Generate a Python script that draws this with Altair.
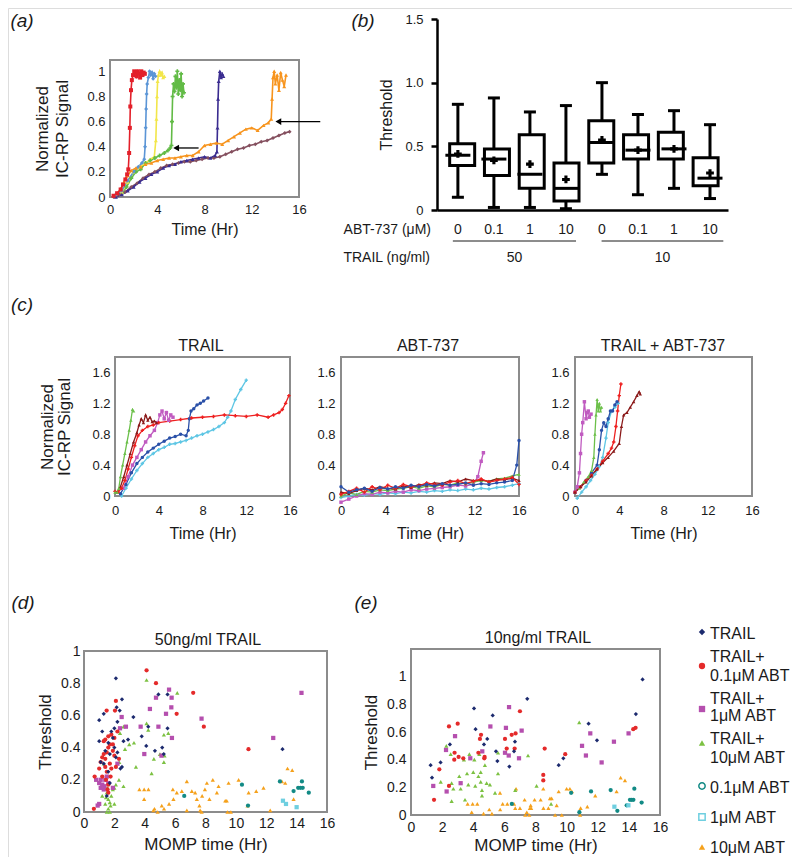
import altair as alt
import pandas as pd

W, H = 784, 849
FONT = "Liberation Sans"
INK = "#1a1a1a"
FRAME = "#8c8c8c"

# ---------------- colours ----------------
NAVY, RED, MAG, GRN, TEAL, LCYAN, ORNG = "#1c2a6e", "#e42a2a", "#b54fae", "#7cc142", "#128a85", "#6fcfe0", "#f5a11c"

# ---------------- panel (a) data ----------------
a_red_t = [0.3,0.6,0.9,1.1,1.3,1.45,1.55,1.62,1.68,1.72,1.78,1.85,1.95,2.05,2.15,2.25,2.35,2.45,2.55,2.65,2.75,2.85,2.95]
a_red_v = [0.01,0.03,0.06,0.1,0.14,0.18,0.22,0.35,0.55,0.72,0.85,0.93,0.97,1.0,0.99,0.96,1.0,0.98,0.95,1.0,0.97,0.99,0.98]
a_blue_t = [0.5,1.0,1.5,2.0,2.4,2.7,2.9,2.97,3.02,3.06,3.1,3.15,3.25,3.35,3.45,3.55,3.65,3.75,3.85]
a_blue_v = [0.02,0.05,0.13,0.2,0.24,0.27,0.3,0.4,0.55,0.7,0.82,0.9,0.95,1.0,0.97,0.99,0.94,0.98,0.96]
a_yel_t = [1.0,1.5,2.0,2.5,3.0,3.4,3.75,3.88,3.93,3.98,4.03,4.1,4.2,4.3,4.4,4.5,4.6]
a_yel_v = [0.04,0.12,0.2,0.24,0.27,0.3,0.32,0.45,0.62,0.8,0.92,0.97,1.0,0.97,0.99,0.95,0.96]
a_grn_t = [1.0,1.4,1.8,2.2,2.6,3.0,3.4,3.8,4.2,4.6,4.9,5.1,5.2,5.25,5.3,5.38,5.46,5.54,5.62,5.7,5.78,5.86,5.94,6.02,6.1,6.18,6.26]
a_grn_v = [0.03,0.08,0.15,0.2,0.22,0.27,0.29,0.31,0.33,0.35,0.37,0.39,0.41,0.6,0.8,0.9,0.84,0.96,0.87,1.0,0.82,0.93,0.85,0.98,0.8,0.9,0.83]
a_ind_t = [0.5,1.0,1.5,2.0,2.5,3.0,3.5,4.0,4.5,5.0,5.5,6.0,6.5,7.0,7.5,8.0,8.5,8.9,9.05,9.1,9.15,9.2,9.3,9.4,9.5,9.6]
a_ind_v = [0.0,0.02,0.05,0.08,0.12,0.15,0.18,0.2,0.23,0.25,0.26,0.28,0.29,0.3,0.31,0.32,0.31,0.33,0.36,0.55,0.78,0.92,1.0,0.95,0.98,0.96]
a_org_t = [0.5,0.9,1.2,1.5,1.8,2.2,2.6,3.0,3.5,4.0,4.5,5.0,5.5,6.0,6.5,7.0,7.5,8.0,8.5,9.0,9.5,10.0,10.5,11.0,11.5,12.0,12.5,13.0,13.4,13.65,13.72,13.8,13.9,14.0,14.15,14.3,14.45,14.6,14.75,14.9]
a_org_v = [0.02,0.06,0.12,0.17,0.21,0.23,0.24,0.26,0.27,0.29,0.3,0.31,0.31,0.32,0.33,0.33,0.36,0.41,0.42,0.43,0.42,0.45,0.48,0.51,0.54,0.55,0.53,0.57,0.59,0.62,0.78,0.95,1.0,0.9,0.97,0.85,0.99,0.93,0.88,0.97]
a_brn_t = [0.3,0.8,1.3,1.8,2.3,2.8,3.3,3.8,4.3,4.8,5.3,5.8,6.3,6.8,7.3,7.8,8.3,8.8,9.3,9.8,10.3,10.8,11.3,11.8,12.3,12.8,13.3,13.8,14.3,14.8,15.2]
a_brn_v = [0.0,0.02,0.04,0.08,0.11,0.15,0.18,0.2,0.23,0.25,0.26,0.27,0.28,0.28,0.29,0.3,0.31,0.31,0.32,0.34,0.36,0.38,0.39,0.41,0.42,0.44,0.45,0.47,0.49,0.51,0.52]
a_arrow_head = [5.6, 14.25]
a_arrow_tail = [7.5, 17.8]
a_arrow_v = [0.39, 0.6]

# ---------------- panel (b) data ----------------
b_pos = [0, 1, 2, 3, 4, 5, 6, 7]
b_abt = ["0", "0.1", "1", "10", "0", "0.1", "1", "10"]
b_lo = [0.10, 0.02, 0.02, 0.01, 0.28, 0.12, 0.17, 0.09]
b_q1 = [0.35, 0.27, 0.17, 0.07, 0.37, 0.40, 0.40, 0.19]
b_med = [0.43, 0.40, 0.28, 0.17, 0.53, 0.47, 0.48, 0.25]
b_q3 = [0.52, 0.48, 0.59, 0.37, 0.70, 0.59, 0.61, 0.41]
b_hi = [0.83, 0.88, 0.77, 0.82, 1.00, 0.75, 0.78, 0.67]
b_mean = [0.44, 0.39, 0.36, 0.24, 0.55, 0.47, 0.48, 0.29]
b_trail = ["50", "10"]
b_group_from = [-0.14, 3.99]
b_group_to = [3.28, 7.37]
b_group_mid = [1.57, 5.68]

# ---------------- panel (c) data ----------------
c1_green = [(0,0.05),(0.2,0.05),(0.35,0.1),(0.5,0.25),(0.7,0.4),(0.9,0.55),(1.1,0.7),(1.3,0.85),(1.45,0.98),(1.6,1.12),(1.7,1.1)]
c1_dred = [(0.2,0.05),(0.5,0.12),(0.8,0.25),(1.1,0.4),(1.4,0.55),(1.7,0.7),(2.0,0.82),(2.2,0.92),(2.4,1.0),(2.6,0.95),(2.8,1.05),(3.0,0.98),(3.2,1.02),(3.4,0.96),(3.6,0.97),(3.8,0.95)]
c1_mag = [(0.8,0.1),(1.2,0.25),(1.6,0.4),(2.0,0.5),(2.4,0.6),(2.8,0.7),(3.2,0.78),(3.6,0.85),(3.9,0.95),(4.1,1.05),(4.3,1.1),(4.5,1.0),(4.7,1.08),(4.9,0.98),(5.1,1.05),(5.3,1.02)]
c1_blue = [(0.5,0.03),(1,0.15),(1.5,0.3),(2,0.42),(2.5,0.5),(3,0.57),(3.5,0.62),(4,0.67),(4.5,0.71),(5,0.75),(5.5,0.77),(6,0.8),(6.5,0.78),(6.7,0.85),(6.8,1.0),(6.95,1.1),(7.2,1.13),(7.5,1.18),(7.8,1.2),(8.1,1.23),(8.5,1.27)]
c1_red = [(0,0.06),(0.3,0.05),(0.6,0.1),(0.9,0.2),(1.2,0.35),(1.5,0.5),(1.8,0.65),(2.1,0.78),(2.5,0.85),(3,0.9),(3.5,0.92),(4,0.95),(5,0.97),(6,0.99),(7,1.01),(8,1.02),(9,1.03),(10,1.05),(11,1.04),(12,1.03),(13,1.05),(14,1.02),(14.5,1.05),(15,1.08),(15.3,1.12),(15.6,1.2),(15.9,1.3)]
c1_cyan = [(0.6,0.0),(1,0.1),(1.5,0.22),(2,0.33),(2.5,0.42),(3,0.5),(3.5,0.55),(4,0.6),(4.5,0.63),(5,0.67),(5.5,0.68),(6,0.7),(6.5,0.72),(7,0.75),(7.5,0.78),(8,0.8),(8.5,0.83),(9,0.86),(9.5,0.9),(10,0.95),(10.3,1.02),(10.6,1.1),(11,1.25),(11.5,1.38),(12.0,1.5)]

c2_blue = [(0,0.12),(0.7,0.05),(1.4,0.08),(2.1,0.1),(2.8,0.06),(3.5,0.11),(4.2,0.09),(4.9,0.12),(5.6,0.1),(6.3,0.14),(7.0,0.12),(7.7,0.15),(8.4,0.13),(9.1,0.16),(9.8,0.14),(10.5,0.15),(11.2,0.17),(11.9,0.14),(12.6,0.16),(13.3,0.15),(14.0,0.17),(14.7,0.18),(15.4,0.2),(15.8,0.4),(16.0,0.72)]
c2_red = [(0,0.02),(0.7,0.06),(1.4,0.1),(2.1,0.05),(2.8,0.12),(3.5,0.08),(4.2,0.14),(4.9,0.1),(5.6,0.15),(6.3,0.12),(7.0,0.13),(7.7,0.17),(8.4,0.15),(9.1,0.14),(9.8,0.18),(10.5,0.2),(11.2,0.16),(11.9,0.19),(12.6,0.22),(13.3,0.18),(14.0,0.2),(14.7,0.22),(15.4,0.24),(16.0,0.15)]
c2_dred = [(0,0.05),(0.7,0.03),(1.4,0.07),(2.1,0.1),(2.8,0.08),(3.5,0.12),(4.2,0.1),(4.9,0.09),(5.6,0.13),(6.3,0.11),(7.0,0.15),(7.7,0.14),(8.4,0.17),(9.1,0.16),(9.8,0.2),(10.5,0.18),(11.2,0.22),(11.9,0.2),(12.6,0.21),(13.3,0.19),(14.0,0.22),(14.7,0.21),(15.4,0.23),(16.0,0.2)]
c2_green = [(0,0.0),(0.7,0.04),(1.4,0.02),(2.1,0.06),(2.8,0.05),(3.5,0.08),(4.2,0.07),(4.9,0.09),(5.6,0.1),(6.3,0.12),(7.0,0.1),(7.7,0.13),(8.4,0.12),(9.1,0.15),(9.8,0.14),(10.5,0.17),(11.2,0.16),(11.9,0.18),(12.6,0.2),(13.3,0.19),(14.0,0.22),(14.7,0.23),(15.4,0.26),(16.0,0.28)]
c2_mag = [(0,-0.08),(0.7,-0.04),(1.4,0.0),(2.1,0.03),(2.8,0.02),(3.5,0.05),(4.2,0.04),(4.9,0.06),(5.6,0.05),(6.3,0.08),(7.0,0.07),(7.7,0.09),(8.4,0.1),(9.1,0.11),(9.8,0.12),(10.5,0.14),(11.2,0.13),(11.9,0.15),(12.3,0.25),(12.6,0.45),(12.8,0.56)]
c2_cyan = [(0,-0.02),(0.7,0.0),(1.4,0.02),(2.1,0.01),(2.8,0.03),(3.5,0.02),(4.2,0.04),(4.9,0.03),(5.6,0.05),(6.3,0.04),(7.0,0.06),(7.7,0.05),(8.4,0.07),(9.1,0.06),(9.8,0.08),(10.5,0.07),(11.2,0.09),(11.9,0.08),(12.6,0.1),(13.3,0.09),(14.0,0.11),(14.7,0.12),(15.4,0.14),(16.0,0.16)]

c3_mag = [(0,0.05),(0.2,0.12),(0.4,0.3),(0.5,0.55),(0.6,0.8),(0.7,0.95),(0.85,1.22),(1.0,1.0),(1.1,1.08),(1.2,1.1),(1.3,1.02),(1.45,1.06)]
c3_green = [(0,0.05),(0.4,0.1),(0.8,0.18),(1.2,0.25),(1.5,0.33),(1.7,0.5),(1.8,0.8),(1.9,1.05),(2.0,1.25),(2.1,1.1),(2.2,1.2),(2.3,1.1),(2.4,1.15)]
c3_blue = [(0,0.05),(0.5,0.12),(1.0,0.2),(1.5,0.3),(2.0,0.4),(2.2,0.6),(2.4,0.85),(2.6,0.95),(2.8,0.9),(3.0,1.0),(3.2,1.1),(3.4,1.1),(3.6,1.18),(3.8,1.22)]
c3_cyan = [(0.2,-0.03),(0.6,0.05),(1.0,0.12),(1.4,0.2),(1.8,0.28),(2.2,0.38),(2.5,0.5),(2.8,0.75),(3.0,0.95),(3.3,1.1),(3.6,1.15),(3.9,1.2)]
c3_red = [(0,0.05),(0.5,0.12),(1.0,0.2),(1.5,0.27),(2.0,0.35),(2.5,0.45),(3.0,0.55),(3.3,0.62),(3.5,0.7),(3.7,0.9),(3.85,1.1),(4.0,1.3),(4.15,1.45)]
c3_dred = [(0,0.05),(0.5,0.12),(1.0,0.18),(1.5,0.26),(2.0,0.35),(2.5,0.43),(3.0,0.5),(3.5,0.58),(4.0,0.68),(4.2,0.9),(4.4,1.05),(4.7,1.08),(5.0,1.15),(5.3,1.22),(5.6,1.3),(5.8,1.35),(5.9,1.32)]

# ---------------- panel (d) data: 50 ng/ml TRAIL ----------------
d_trail = [(2.1,0.83),(2.5,0.70),(1.3,0.61),(1.0,0.57),(2.15,0.65),(3.25,0.59),(4.9,0.73),(5.5,0.73),(5.5,0.52),(4.23,0.53),(3.8,0.47),(2.9,0.45),(2.6,0.44),(5.15,0.40),(4.67,0.38),(13.07,0.39),(1.0,0.44),(1.2,0.5),(1.4,0.38),(1.6,0.43),(1.8,0.5),(2.0,0.52),(2.2,0.56),(2.35,0.63),(1.3,0.3),(1.6,0.25),(2.0,0.4),(2.2,0.37),(2.4,0.27),(2.5,0.28),(1.1,0.31),(1.7,0.18),(1.5,0.1),(1.9,0.46),(2.1,0.34),(1.7,0.36),(4.1,0.41),(5.25,0.36)]
d_abt01 = [(4.12,0.88),(4.74,0.80),(7.19,0.74),(7.89,0.53),(6.1,0.61),(10.83,0.39),(2.1,0.69),(2.04,0.63),(1.49,0.63),(0.7,0.22),(1.0,0.27),(1.1,0.31),(1.2,0.34),(1.3,0.36),(1.4,0.28),(1.5,0.25),(1.45,0.2),(1.6,0.17),(1.4,0.45),(1.6,0.47),(1.8,0.48),(1.7,0.42),(1.9,0.38),(2.0,0.35),(1.6,0.4),(1.3,0.44),(1.5,0.37),(1.7,0.3),(1.8,0.27),(1.6,0.12),(0.65,0.02),(1.55,0.14),(1.2,0.22),(2.0,0.46),(2.2,0.5),(2.3,0.33),(2.1,0.28),(1.9,0.42),(1.4,0.33),(1.75,0.22)]
d_abt1 = [(5.6,0.76),(4.74,0.71),(5.77,0.71),(5.75,0.65),(5.4,0.61),(4.34,0.64),(2.48,0.59),(2.76,0.53),(3.73,0.53),(4.9,0.53),(5.79,0.46),(3.97,0.36),(5.1,0.35),(7.74,0.58),(12.46,0.46),(14.32,0.74),(2.37,0.52),(0.8,0.2),(1.0,0.18),(1.1,0.15),(1.2,0.17),(1.3,0.14),(1.0,0.05),(1.5,0.22),(1.6,0.18),(0.9,0.04),(1.4,0.2),(2.2,0.3),(1.9,0.15),(1.1,0.2),(1.35,0.16)]
d_abt10 = [(4.12,0.82),(6.14,0.74),(4.12,0.55),(4.23,0.51),(3.29,0.43),(2.98,0.42),(2.37,0.49),(5.26,0.48),(5.55,0.49),(5.0,0.36),(4.6,0.33),(5.26,0.31),(3.42,0.28),(4.45,0.24),(2.32,0.31),(2.7,0.39),(1.2,0.1),(1.4,0.05),(1.5,0.0),(1.6,0.02),(1.7,0.06),(1.8,0.1),(1.9,0.14),(2.0,0.15),(2.1,0.17),(2.3,0.2),(1.5,0.12),(1.7,0.0),(1.3,0.3),(1.55,0.15),(1.6,0.08),(2.0,0.05),(2.6,0.53),(1.45,0.09),(1.75,0.04),(5.3,0.35),(2.6,0.16)]
d_only01 = [(6.6,0.1),(10.4,0.17),(10.8,0.04),(12.9,0.19),(13.8,0.13),(14.1,0.15),(14.25,0.15),(14.35,0.19),(14.8,0.12),(14.4,0.15)]
d_only1 = [(13.1,0.07),(13.3,0.05),(14.0,0.03)]
d_only10 = [(3.65,0.14),(3.96,0.14),(4.24,0.14),(3.96,0.08),(4.57,0.01),(4.64,0.02),(5.12,0.04),(5.27,0.02),(5.89,0.08),(5.85,0.14),(6.11,0.12),(6.44,0.13),(6.77,0.19),(7.1,0.13),(7.32,0.12),(7.43,0.08),(7.6,0.04),(7.65,0.01),(7.75,0.0),(7.78,0.1),(7.96,0.14),(8.09,0.18),(8.26,0.08),(8.48,0.2),(8.75,0.12),(8.86,0.16),(9.3,0.07),(9.4,0.07),(9.52,0.18),(9.45,0.0),(9.67,0.0),(10.18,0.2),(10.77,0.04),(10.84,0.12),(11.34,0.13),(11.82,0.15),(12.26,0.01),(13.03,0.19),(13.25,0.18),(13.4,0.27),(13.71,0.26),(13.8,0.08),(6.77,0.01),(4.85,0.0),(5.6,0.05)]

# ---------------- panel (e) data: 10 ng/ml TRAIL ----------------
e_trail = [(14.88,0.98),(7.47,0.84),(4.05,0.77),(5.25,0.72),(4.15,0.62),(4.9,0.55),(4.69,0.51),(5.46,0.46),(5.55,0.39),(6.32,0.35),(6.68,0.53),(6.62,0.46),(2.5,0.51),(1.9,0.38),(1.26,0.36),(1.35,0.27),(9.49,0.36),(9.79,0.41),(11.41,0.66),(11.95,0.54),(14.45,0.73)]
e_abt01 = [(2.44,0.64),(3.0,0.66),(2.8,0.45),(2.78,0.40),(3.06,0.42),(3.36,0.41),(4.5,0.58),(4.43,0.55),(4.33,0.45),(4.73,0.42),(4.71,0.41),(6.04,0.55),(6.15,0.48),(6.72,0.59),(6.47,0.58),(7.0,0.75),(6.66,0.48),(8.59,0.48),(8.5,0.29),(8.5,0.25),(9.91,0.44),(1.82,0.33),(1.48,0.11),(2.44,0.21),(14.28,0.62),(14.43,0.63)]
e_abt1 = [(2.83,0.57),(2.25,0.47),(1.43,0.21),(2.29,0.17),(3.19,0.23),(3.81,0.41),(4.58,0.46),(5.1,0.64),(6.1,0.63),(6.3,0.78),(7.11,0.61),(6.28,0.43),(6.94,0.41),(6.04,0.45),(10.99,0.50),(11.52,0.59),(11.24,0.43),(12.25,0.38),(13.04,0.53),(13.98,0.59)]
e_abt10 = [(2.27,0.50),(2.55,0.44),(1.91,0.24),(2.61,0.23),(2.72,0.19),(2.61,0.10),(3.1,0.28),(3.4,0.40),(3.75,0.44),(4.07,0.40),(4.39,0.44),(4.0,0.31),(4.33,0.28),(4.48,0.31),(4.75,0.36),(3.6,0.30),(3.68,0.22),(4.13,0.21),(4.48,0.24),(4.86,0.23),(5.07,0.22),(4.56,0.18),(4.56,0.14),(3.19,0.19),(3.47,0.11),(5.59,0.30),(5.4,0.16),(5.59,0.45),(7.52,0.43),(8.07,0.21),(6.7,0.18),(9.0,0.08),(10.81,0.67)]
e_only01 = [(6.48,0.08),(10.29,0.16),(10.82,0.02),(11.57,0.17),(12.83,0.18),(13.86,0.07),(14.07,0.11),(14.18,0.11),(14.29,0.11),(14.35,0.19),(14.82,0.09),(13.26,0.03)]
e_only1 = [(13.07,0.06),(13.97,0.07)]
e_only10 = [(3.64,0.08),(3.96,0.08),(4.26,0.08),(5.03,0.04),(5.72,0.16),(5.89,0.08),(6.19,0.08),(6.75,0.19),(6.62,0.08),(7.3,0.11),(7.69,0.07),(7.94,0.11),(8.33,0.11),(8.5,0.19),(8.93,0.12),(9.04,0.12),(9.49,0.17),(10.21,0.19),(10.34,0.17),(10.9,0.05),(11.33,0.06),(11.84,0.14),(13.21,0.17),(13.47,0.27),(13.75,0.25),(9.36,0.07),(7.64,0.05),(3.9,0.02),(4.66,0.01),(5.2,0.01),(5.73,0.04),(6.7,0.05),(7.0,0.05),(7.34,0.0),(7.44,0.02),(7.6,0.0),(7.72,0.05),(8.51,0.05),(8.83,0.05),(9.26,0.0),(9.69,0.0),(10.87,0.0),(10.0,0.19)]

# ---------------- geometry (page pixels; plot = page - 8) ----------------
GEO = {
    "a":  dict(xd=[0, 16], xp=[110, 299], yd=[0, 1.09], yp=[197, 60]),
    "b":  dict(xd=[-0.58, 7.5], xp=[437, 728], yd=[0, 1.5], yp=[210, 19]),
    "c1": dict(xd=[0, 16], xp=[115, 290], yd=[0, 1.8], yp=[496, 357]),
    "c2": dict(xd=[0, 16], xp=[341, 519], yd=[0, 1.8], yp=[496, 357]),
    "c3": dict(xd=[0, 16], xp=[575, 752], yd=[0, 1.8], yp=[496, 357]),
    "d":  dict(xd=[0, 16], xp=[84, 327], yd=[0, 1.0], yp=[812, 651]),
    "e":  dict(xd=[0, 16], xp=[411, 660], yd=[0, 1.2], yp=[815, 649]),
}


def xs(p):
    g = GEO[p]
    return alt.Scale(domain=g["xd"], range=[g["xp"][0] - 8, g["xp"][1] - 8], nice=False, zero=False)


def ys(p):
    g = GEO[p]
    return alt.Scale(domain=g["yd"], range=[g["yp"][0] - 8, g["yp"][1] - 8], nice=False, zero=False)


def xax(p, values, title, lsize=13, tsize=16, lpad=6, tpad=5):
    g = GEO[p]
    return alt.Axis(orient="bottom", offset=(g["yp"][0] - 8) - H, values=values, title=title, format="~g",
                    domain=False, ticks=False, grid=False, labelFontSize=lsize, titleFontSize=tsize,
                    labelPadding=lpad, titlePadding=tpad, labelFlush=False, labelOverlap=False,
                    labelColor=INK, titleColor=INK, titleFontWeight="normal", labelFont=FONT, titleFont=FONT)


def yax(p, values, title, lsize=13, tsize=16, lpad=5, tpad=10, tlh=19):
    g = GEO[p]
    return alt.Axis(orient="left", offset=-(g["xp"][0] - 8), values=values, title=title, format="~g",
                    domain=False, ticks=False, grid=False, labelFontSize=lsize, titleFontSize=tsize,
                    labelPadding=lpad, titlePadding=tpad, labelFlush=False, labelOverlap=False,
                    labelColor=INK, titleColor=INK, titleFontWeight="normal", labelFont=FONT, titleFont=FONT,
                    titleLineHeight=tlh)


def frame(p, xaxis, yaxis):
    g = GEO[p]
    df = pd.DataFrame({"x0": [g["xd"][0]], "x1": [g["xd"][1]], "y0": [g["yd"][0]], "y1": [g["yd"][1]]})
    return alt.Chart(df).mark_rect(fillOpacity=0, stroke=FRAME, strokeWidth=2).encode(
        x=alt.X("x0:Q", scale=xs(p), axis=xaxis), x2="x1:Q",
        y=alt.Y("y0:Q", scale=ys(p), axis=yaxis), y2="y1:Q")


def trace_layer(p, traces, size=10, sw=1.0):
    rows = []
    for name, pts, col, shp in traces:
        for i, (t, v) in enumerate(pts):
            rows.append({"s": name, "t": t, "v": v, "i": i})
    df = pd.DataFrame(rows)
    names = [tr[0] for tr in traces]
    return alt.Chart(df).mark_line(strokeWidth=sw, point=alt.OverlayMarkDef(size=size, filled=True, opacity=1)).encode(
        x=alt.X("t:Q", scale=xs(p), axis=None),
        y=alt.Y("v:Q", scale=ys(p), axis=None),
        color=alt.Color("s:N", scale=alt.Scale(domain=names, range=[tr[2] for tr in traces]), legend=None),
        shape=alt.Shape("s:N", scale=alt.Scale(domain=names, range=[tr[3] for tr in traces]), legend=None),
        detail="s:N",
        order="i:Q")


def scatter_layer(p, series, size=18):
    rows = []
    for name, pts, col, shp in series:
        for (x, y) in pts:
            rows.append({"s": name, "x": x, "y": y})
    df = pd.DataFrame(rows)
    names = [s[0] for s in series]
    return alt.Chart(df).mark_point(filled=True, size=size, opacity=1).encode(
        x=alt.X("x:Q", scale=xs(p), axis=None),
        y=alt.Y("y:Q", scale=ys(p), axis=None),
        color=alt.Color("s:N", scale=alt.Scale(domain=names, range=[s[2] for s in series]), legend=None),
        shape=alt.Shape("s:N", scale=alt.Scale(domain=names, range=[s[3] for s in series]), legend=None))


def txt(text, x, y, size=14, align="center", style="normal", baseline="middle"):
    return alt.Chart(pd.DataFrame({"t": [text]})).mark_text(
        align=align, baseline=baseline, fontSize=size, fontStyle=style, font=FONT, color=INK).encode(
        x=alt.value(x - 8), y=alt.value(y - 8), text="t:N")


layers = []

# ---------- panel (a) ----------
layers.append(frame("a", xax("a", [0, 4, 8, 12, 16], "Time (Hr)", lpad=6, tpad=5),
                    yax("a", [0, 0.2, 0.4, 0.6, 0.8, 1], ["Normalized", "IC-RP Signal"], tsize=17, tpad=15, tlh=20)))
a_traces = [
    ("brown", list(zip(a_brn_t, a_brn_v)), "#85505f", "diamond"),
    ("indigo", list(zip(a_ind_t, a_ind_v)), "#3a2c90", "triangle-up"),
    ("orange", list(zip(a_org_t, a_org_v)), "#f7941d", "triangle-up"),
    ("green", list(zip(a_grn_t, a_grn_v)), "#62bb46", "cross"),
    ("yellow", list(zip(a_yel_t, a_yel_v)), "#f2e64a", "triangle-up"),
    ("blue", list(zip(a_blue_t, a_blue_v)), "#5b95d6", "diamond"),
    ("red", list(zip(a_red_t, a_red_v)), "#e3202a", "square"),
]
layers.append(trace_layer("a", a_traces, size=16, sw=1.6))
arr = pd.DataFrame({"h": a_arrow_head, "t": a_arrow_tail, "v": a_arrow_v})
layers.append(alt.Chart(arr).mark_rule(color="black", strokeWidth=1.3).encode(
    x=alt.X("h:Q", scale=xs("a"), axis=None), x2="t:Q", y=alt.Y("v:Q", scale=ys("a"), axis=None)))
layers.append(alt.Chart(arr).mark_point(shape="triangle-left", filled=True, size=45, color="black", opacity=1).encode(
    x=alt.X("h:Q", scale=xs("a"), axis=None), y=alt.Y("v:Q", scale=ys("a"), axis=None)))

# ---------- panel (b) ----------
bdf = pd.DataFrame({"pos": b_pos, "abt": b_abt, "lo": b_lo, "q1": b_q1, "med": b_med,
                    "q3": b_q3, "hi": b_hi, "mean": b_mean})
b_xaxis = alt.Axis(orient="bottom", offset=(GEO["b"]["yp"][0] - 8) - H, domain=True, domainColor="black",
                   domainWidth=2.5, ticks=False, labels=False, grid=False, title="")
b_yaxis = alt.Axis(orient="left", offset=-(GEO["b"]["xp"][0] - 8), values=[0, 0.5, 1.0, 1.5], domain=True,
                   domainColor="black", domainWidth=2.5, ticks=True, tickColor="black", tickWidth=2.5, tickSize=6,
                   grid=False, labelExpr="datum.value == 0 ? '0' : format(datum.value, '.1f')",
                   labelFontSize=13, labelPadding=8, labelColor=INK, labelFont=FONT,
                   title="Threshold", titleFontSize=16, titleFontWeight="normal", titleColor=INK,
                   titleFont=FONT, titlePadding=10)
layers.append(alt.Chart(bdf).mark_rule(color="black", strokeWidth=3).encode(
    x=alt.X("pos:Q", scale=xs("b"), axis=b_xaxis), y=alt.Y("lo:Q", scale=ys("b"), axis=b_yaxis), y2="hi:Q"))
layers.append(alt.Chart(bdf).mark_bar(size=25, fill="white", stroke="black", strokeWidth=3).encode(
    x=alt.X("pos:Q", scale=xs("b"), axis=None), y=alt.Y("q1:Q", scale=ys("b"), axis=None), y2="q3:Q"))
for fld, sz in (("med", 25), ("lo", 12), ("hi", 12)):
    layers.append(alt.Chart(bdf).mark_tick(orient="horizontal", size=sz, thickness=3, color="black", opacity=1).encode(
        x=alt.X("pos:Q", scale=xs("b"), axis=None), y=alt.Y(f"{fld}:Q", scale=ys("b"), axis=None)))
layers.append(alt.Chart(bdf).mark_point(shape="cross", filled=True, size=60, color="black", opacity=1).encode(
    x=alt.X("pos:Q", scale=xs("b"), axis=None), y=alt.Y("mean:Q", scale=ys("b"), axis=None)))
layers.append(alt.Chart(bdf).mark_text(fontSize=14, font=FONT, color=INK, baseline="middle").encode(
    x=alt.X("pos:Q", scale=xs("b"), axis=None), y=alt.value(230 - 8), text="abt:N"))
gdf = pd.DataFrame({"f": b_group_from, "t": b_group_to, "m": b_group_mid, "lab": b_trail})
layers.append(alt.Chart(gdf).mark_rule(color=INK, strokeWidth=1).encode(
    x=alt.X("f:Q", scale=xs("b"), axis=None), x2="t:Q", y=alt.value(241 - 8)))
layers.append(alt.Chart(gdf).mark_text(fontSize=14, font=FONT, color=INK, baseline="middle").encode(
    x=alt.X("m:Q", scale=xs("b"), axis=None), y=alt.value(258 - 8), text="lab:N"))
layers.append(txt("ABT-737 (\u03bcM)", 431, 230, 14, align="right"))
layers.append(txt("TRAIL (ng/ml)", 430, 258, 14, align="right"))

# ---------- panel (c) ----------
CG, CDR, CM, CB, CR, CC = "#6cc04a", "#8b1a1a", "#c05bc0", "#2a50a8", "#ee2020", "#5ec6e4"
layers.append(frame("c1", xax("c1", [0, 4, 8, 12, 16], "Time (Hr)", lpad=8, tpad=8),
                    yax("c1", [0, 0.4, 0.8, 1.2, 1.6], ["Normalized", "IC-RP Signal"], tsize=17, tpad=18, tlh=17)))
layers.append(trace_layer("c1", [
    ("cyan", c1_cyan, CC, "cross"), ("blue", c1_blue, CB, "circle"), ("mag", c1_mag, CM, "square"),
    ("red", c1_red, CR, "cross"), ("dred", c1_dred, CDR, "triangle-up"), ("green", c1_green, CG, "triangle-up")],
    size=12, sw=1.3))
layers.append(frame("c2", xax("c2", [0, 4, 8, 12, 16], "Time (Hr)", lpad=8, tpad=8),
                    yax("c2", [0, 0.4, 0.8, 1.2, 1.6], "", lpad=6)))
layers.append(trace_layer("c2", [
    ("cyan", c2_cyan, CC, "cross"), ("mag", c2_mag, CM, "square"), ("green", c2_green, CG, "triangle-up"),
    ("dred", c2_dred, CDR, "triangle-up"), ("red", c2_red, CR, "cross"), ("blue", c2_blue, CB, "circle")],
    size=12, sw=1.3))
layers.append(frame("c3", xax("c3", [0, 4, 8, 12, 16], "Time (Hr)", lpad=8, tpad=8),
                    yax("c3", [0, 0.4, 0.8, 1.2, 1.6], "", lpad=6)))
layers.append(trace_layer("c3", [
    ("cyan", c3_cyan, CC, "cross"), ("blue", c3_blue, CB, "circle"), ("green", c3_green, CG, "triangle-up"),
    ("mag", c3_mag, CM, "square"), ("red", c3_red, CR, "cross"), ("dred", c3_dred, CDR, "triangle-up")],
    size=12, sw=1.3))
layers.append(txt("TRAIL", 201, 346, 16))
layers.append(txt("ABT-737", 428, 346, 16))
layers.append(txt("TRAIL + ABT-737", 663, 346, 16))

# ---------- panels (d) and (e) ----------
xv = [0, 2, 4, 6, 8, 10, 12, 14, 16]
yv = [0, 0.2, 0.4, 0.6, 0.8, 1]
layers.append(frame("d", xax("d", xv, "MOMP time (Hr)", lsize=14, tsize=17, lpad=4, tpad=6),
                    yax("d", yv, "Threshold", lsize=14, tsize=17, lpad=4, tpad=6)))
layers.append(scatter_layer("d", [
    ("only10", d_only10, ORNG, "triangle-up"), ("only01", d_only01, TEAL, "circle"),
    ("only1", d_only1, LCYAN, "square"), ("abt10", d_abt10, GRN, "triangle-up"),
    ("abt1", d_abt1, MAG, "square"), ("abt01", d_abt01, RED, "circle"), ("trail", d_trail, NAVY, "diamond")]))
layers.append(frame("e", xax("e", xv, "MOMP time (Hr)", lsize=14, tsize=17, lpad=5, tpad=3),
                    yax("e", yv, "Threshold", lsize=14, tsize=17, lpad=5, tpad=6)))
layers.append(scatter_layer("e", [
    ("only10", e_only10, ORNG, "triangle-up"), ("only01", e_only01, TEAL, "circle"),
    ("only1", e_only1, LCYAN, "square"), ("abt10", e_abt10, GRN, "triangle-up"),
    ("abt1", e_abt1, MAG, "square"), ("abt01", e_abt01, RED, "circle"), ("trail", e_trail, NAVY, "diamond")]))
layers.append(txt("50ng/ml TRAIL", 208, 640, 16))
layers.append(txt("10ng/ml TRAIL", 538, 638, 16))

# ---------- legend ----------
leg_marks = [(632, "diamond", NAVY, True), (666, "circle", RED, True), (709, "square", MAG, True),
             (743, "triangle-up", GRN, True), (786, "circle", TEAL, False), (817, "square", LCYAN, False),
             (847, "triangle-up", ORNG, True)]
for yy, shp, col, fill in leg_marks:
    layers.append(alt.Chart(pd.DataFrame({"k": [0]})).mark_point(
        shape=shp, filled=fill, color=col, size=40, opacity=1, strokeWidth=1.5).encode(
        x=alt.value(702 - 8), y=alt.value(yy - 8)))
leg_text = [("TRAIL", 634), ("TRAIL+", 657), ("0.1\u03bcM ABT", 676), ("TRAIL+", 699), ("1\u03bcM ABT", 716),
            ("TRAIL+", 739), ("10\u03bcM ABT", 758), ("0.1\u03bcM ABT", 788), ("1\u03bcM ABT", 818),
            ("10\u03bcM ABT", 848)]
for t, yy in leg_text:
    layers.append(txt(t, 710, yy, 16, align="left"))

# ---------- panel letters ----------
for lab, x, y in (("(a)", 22, 21), ("(b)", 363, 21), ("(c)", 22, 305), ("(d)", 23, 603), ("(e)", 366, 603)):
    layers.append(txt(lab, x, y, 19, style="italic"))

chart = alt.layer(*layers).resolve_scale(
    x="independent", y="independent", color="independent", shape="independent"
).properties(
    width=W, height=H, padding=0, autosize=alt.AutoSizeParams(type="none")
).configure_view(strokeWidth=0).configure(font=FONT)

chart.save("out.html", embed_options={"renderer": "svg", "actions": False})
